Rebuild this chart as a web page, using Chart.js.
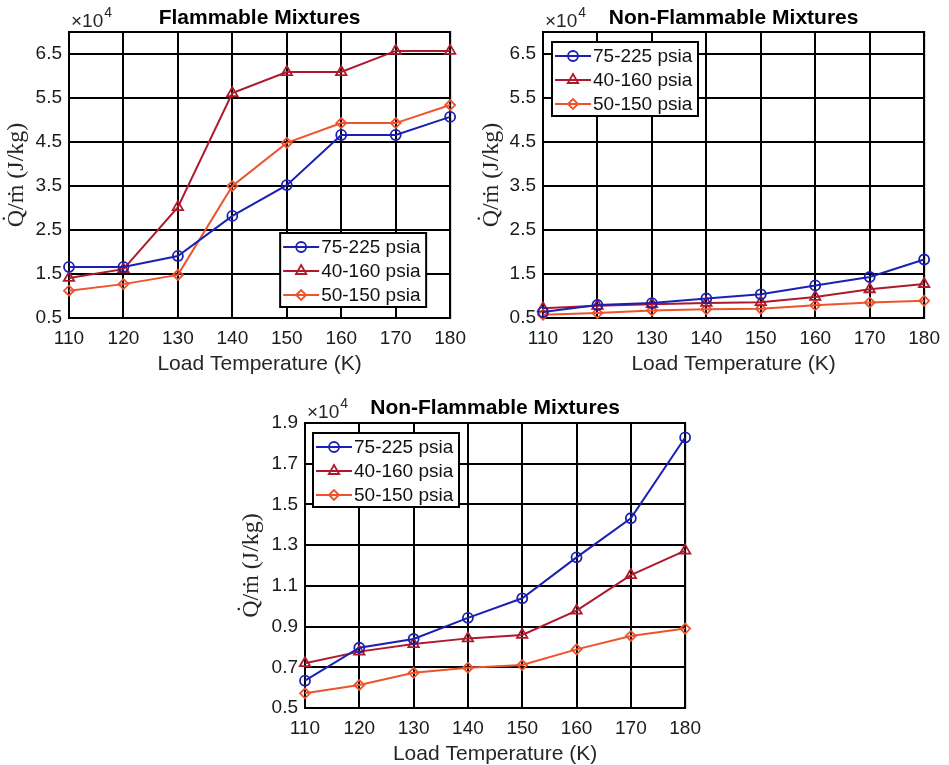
<!DOCTYPE html>
<html>
<head>
<meta charset="utf-8">
<title>Load temperature charts</title>
<script src="https://cdn.jsdelivr.net/npm/chart.js@4.4.0/dist/chart.umd.min.js"></script>
<style>
    html, body { margin: 0; padding: 0; background: #fff; }
    #wrap { position: relative; width: 949px; height: 765px; }
    #wrap canvas { position: absolute; }
</style>
</head>
<body>
<div id="wrap">
    <canvas id="flamChart" width="475" height="375" style="left:0;top:0"></canvas>
    <canvas id="nonFlamChart" width="474" height="375" style="left:475px;top:0"></canvas>
    <canvas id="nonFlamZoomChart" width="475" height="375" style="left:235px;top:390px"></canvas>
</div>
<script>
// Data (Q/m in units of 10^4 J/kg)
const temps = [110, 120, 130, 140, 150, 160, 170, 180];
const seriesNames = ['75-225 psia', '40-160 psia', '50-150 psia'];

const flam75 = [1.66, 1.66, 1.91, 2.82, 3.52, 4.66, 4.66, 5.07];
const flam40 = [1.41, 1.61, 3.02, 5.61, 6.09, 6.09, 6.57, 6.57];
const flam50 = [1.12, 1.27, 1.48, 3.50, 4.48, 4.93, 4.93, 5.34];

const nonFlam75 = [0.634, 0.796, 0.839, 0.943, 1.039, 1.240, 1.432, 1.829];
const nonFlam40 = [0.720, 0.777, 0.814, 0.842, 0.859, 0.978, 1.153, 1.273];
const nonFlam50 = [0.572, 0.613, 0.673, 0.698, 0.711, 0.788, 0.854, 0.890];

const xTicks = [110, 120, 130, 140, 150, 160, 170, 180];
const yTicksWide = [0.5, 1.5, 2.5, 3.5, 4.5, 5.5, 6.5];
const yTicksZoom = [0.5, 0.7, 0.9, 1.1, 1.3, 1.5, 1.7, 1.9];
const yExponent = '4';

const colors = ['#1b20b4', '#ae1a2c', '#ef532c'];
const markers = ['circle', 'triangle', 'rectRot'];
const markerSizes = [5, 6, 5];

const sansFont = '"Liberation Sans", Arial, sans-serif';

// Outer box around the plot area (MATLAB "box on")
const frameBox = {
    id: 'frameBox',
    beforeDatasetsDraw(chart) {
        const { ctx, chartArea: a } = chart;
        ctx.save();
        ctx.strokeStyle = '#000';
        ctx.lineWidth = 2;
        ctx.strokeRect(a.left, a.top, a.right - a.left, a.bottom - a.top);
        ctx.restore();
    }
};

// Title and the x10^4 multiplier
const figText = {
    id: 'figText',
    afterDraw(chart, args, opts) {
        const { ctx, chartArea: a } = chart;
        ctx.save();
        ctx.fillStyle = '#000';
        ctx.font = 'bold 21px ' + sansFont;
        ctx.textAlign = 'center';
        ctx.textBaseline = 'middle';
        ctx.fillText(opts.title, (a.left + a.right) / 2, 18);

        ctx.textAlign = 'left';
        ctx.textBaseline = 'alphabetic';
        ctx.fillStyle = '#262626';
        ctx.font = '19px ' + sansFont;
        ctx.fillText('\u00d710', a.left + 2, a.top - 5);
        const w = ctx.measureText('\u00d710').width;
        ctx.font = '14px ' + sansFont;
        ctx.fillText(opts.exponent, a.left + 3 + w, a.top - 15);
        ctx.restore();
    }
};

// Boxed legend with line + marker samples
const boxLegend = {
    id: 'boxLegend',
    afterDatasetsDraw(chart, args, opts) {
        const { ctx, chartArea: a } = chart;
        const w = 146, h = 74;
        const x0 = opts.corner === 'br' ? a.right - opts.dx - w : a.left + opts.dx;
        const y0 = opts.corner === 'br' ? a.bottom - opts.dy - h : a.top + opts.dy;
        ctx.save();
        ctx.fillStyle = '#fff';
        ctx.fillRect(x0, y0, w, h);
        ctx.strokeStyle = '#000';
        ctx.lineWidth = 2;
        ctx.strokeRect(x0, y0, w, h);
        chart.data.datasets.forEach((ds, i) => {
            const y = y0 + 14 + i * 24;
            ctx.strokeStyle = ds.borderColor;
            ctx.lineWidth = 2;
            ctx.beginPath();
            ctx.moveTo(x0 + 3, y);
            ctx.lineTo(x0 + 39, y);
            ctx.stroke();
            ctx.fillStyle = 'rgba(0,0,0,0)';
            ctx.lineWidth = 1.8;
            Chart.helpers.drawPoint(ctx, { pointStyle: ds.pointStyle, radius: ds.pointRadius, borderWidth: 1.8, rotation: 0 }, x0 + 21, y);
            ctx.fillStyle = '#111';
            ctx.font = '19px ' + sansFont;
            ctx.textAlign = 'left';
            ctx.textBaseline = 'middle';
            ctx.fillText(ds.label, x0 + 41, y + 1);
        });
        ctx.restore();
    }
};

function makeSeries(values, i) {
    return {
        label: seriesNames[i],
        data: values.map((v, k) => ({ x: temps[k], y: v })),
        borderColor: colors[i],
        pointBorderColor: colors[i],
        pointBackgroundColor: 'rgba(0,0,0,0)',
        pointStyle: markers[i],
        pointRadius: markerSizes[i],
        pointBorderWidth: 1.8,
        borderWidth: 2,
        tension: 0,
        clip: false
    };
}

function makeChart(id, sets, yMax, yTicks, title, legend, area) {
    const canvas = document.getElementById(id);
    new Chart(canvas.getContext('2d'), {
        type: 'line',
        data: { datasets: sets.map(makeSeries) },
        options: {
            responsive: false,
            animation: false,
            layout: { padding: { left: 0, top: area.top, right: canvas.width - area.right, bottom: 0 } },
            plugins: {
                legend: { display: false },
                tooltip: { enabled: false },
                figText: { title: title, exponent: yExponent },
                boxLegend: legend
            },
            scales: {
                x: {
                    type: 'linear',
                    min: 110,
                    max: 180,
                    afterBuildTicks: s => { s.ticks = xTicks.map(v => ({ value: v })); },
                    afterFit: s => { s.height = canvas.height - area.bottom; },
                    grid: { color: '#000', lineWidth: 2, drawTicks: false },
                    border: { color: '#000', width: 2 },
                    ticks: { color: '#1a1a1a', padding: 9, maxRotation: 0, font: { family: sansFont, size: 19 } },
                    title: {
                        display: true,
                        text: 'Load Temperature (K)',
                        color: '#262626',
                        padding: { top: 0, bottom: -2 },
                        font: { family: sansFont, size: 21 }
                    }
                },
                y: {
                    min: 0.5,
                    max: yMax,
                    afterBuildTicks: s => { s.ticks = yTicks.map(v => ({ value: v })); },
                    afterFit: s => { s.width = area.left; },
                    grid: { color: '#000', lineWidth: 2, drawTicks: false },
                    border: { color: '#000', width: 2 },
                    ticks: {
                        color: '#1a1a1a',
                        padding: 7,
                        font: { family: sansFont, size: 19 },
                        callback: v => v.toFixed(1)
                    },
                    title: {
                        display: true,
                        text: 'Q\u0307/\u1e41 (J/kg)',
                        color: '#262626',
                        padding: { top: 2, bottom: 0 },
                        font: { family: '"Liberation Serif", "Times New Roman", serif', size: 24 }
                    }
                }
            }
        },
        plugins: [frameBox, boxLegend, figText]
    });
}

makeChart('flamChart', [flam75, flam40, flam50], 7.0, yTicksWide, 'Flammable Mixtures',
    { corner: 'br', dx: 24, dy: 11 }, { left: 69, right: 456, top: 32, bottom: 318 });
makeChart('nonFlamChart', [nonFlam75, nonFlam40, nonFlam50], 7.0, yTicksWide, 'Non-Flammable Mixtures',
    { corner: 'tl', dx: 9, dy: 10 }, { left: 68, right: 454, top: 32, bottom: 318 });
makeChart('nonFlamZoomChart', [nonFlam75, nonFlam40, nonFlam50], 1.9, yTicksZoom, 'Non-Flammable Mixtures',
    { corner: 'tl', dx: 8, dy: 10 }, { left: 70, right: 456, top: 33, bottom: 318 });
</script>
</body>
</html>
